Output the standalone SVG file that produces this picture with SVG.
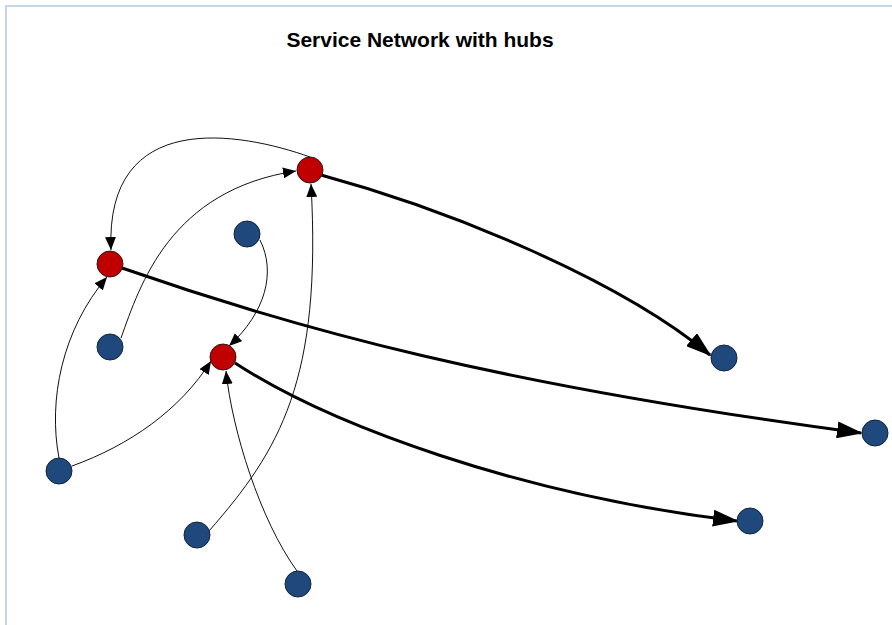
<svg xmlns="http://www.w3.org/2000/svg" width="892" height="625" viewBox="0 0 892 625">
  <style>
    .frame { fill: none; stroke: #B4C8E4; stroke-width: 1.5; }
    .title { font-family: "Liberation Sans", Arial, sans-serif; font-weight: bold; font-size: 21px; fill: #000; }
    .hub { fill: #C00000; stroke: #2a1a1a; stroke-width: 1; }
    .site { fill: #1F497D; stroke: #14233a; stroke-width: 1; }
    .thin { fill: none; stroke: #111; stroke-width: 1; marker-end: url(#arrowSmall); }
    .thick { fill: none; stroke: #000; stroke-width: 3; marker-end: url(#arrowLarge); }
  </style>
  <defs>
    <marker id="arrowSmall" markerUnits="userSpaceOnUse" viewBox="0 0 13 11" markerWidth="13" markerHeight="11" refX="13" refY="5.5" orient="auto">
      <path d="M0,0 L13,5.5 L0,11 z" fill="#000"/>
    </marker>
    <marker id="arrowLarge" markerUnits="userSpaceOnUse" viewBox="0 0 26 17" markerWidth="26" markerHeight="17" refX="24" refY="8.5" orient="auto">
      <path d="M0,0 L26,8.5 L0,17 z" fill="#000"/>
    </marker>
  </defs>

  <rect class="frame" x="6" y="6" width="900" height="700"/>
  <text class="title" x="420" y="47" text-anchor="middle">Service Network with hubs</text>

  <g id="connectors">
    <path class="thin" d="M310,157 C240,132 105,108 111,250"/>
    <path class="thin" d="M121,338 C140,285 170,190 296,171"/>
    <path class="thin" d="M260,240 C276,272 266,312 229,346"/>
    <path class="thin" d="M59,458 C48,400 62,330 107,277"/>
    <path class="thin" d="M72,466 C130,445 180,410 211,361"/>
    <path class="thin" d="M209,531 C280,450 322,380 311,184"/>
    <path class="thin" d="M297,571 C260,520 232,430 226,371"/>
    <path class="thick" d="M321,175 C450,210 620,280 710,355"/>
    <path class="thick" d="M122,268 C300,330 500,385 861,433"/>
    <path class="thick" d="M235,363 C330,425 520,495 737,521"/>
  </g>

  <g id="hub-north"><circle class="hub" cx="310" cy="170" r="13"/></g>
  <g id="hub-west"><circle class="hub" cx="110" cy="264" r="13"/></g>
  <g id="hub-central"><circle class="hub" cx="223" cy="357" r="13"/></g>

  <g id="site-1"><circle class="site" cx="247" cy="234" r="13"/></g>
  <g id="site-2"><circle class="site" cx="110" cy="347" r="13"/></g>
  <g id="site-3"><circle class="site" cx="59" cy="471" r="13"/></g>
  <g id="site-4"><circle class="site" cx="197" cy="535" r="13"/></g>
  <g id="site-5"><circle class="site" cx="298" cy="584" r="13"/></g>
  <g id="site-6"><circle class="site" cx="724" cy="358" r="13"/></g>
  <g id="site-7"><circle class="site" cx="875" cy="433" r="13"/></g>
  <g id="site-8"><circle class="site" cx="750" cy="521" r="13"/></g>
</svg>
